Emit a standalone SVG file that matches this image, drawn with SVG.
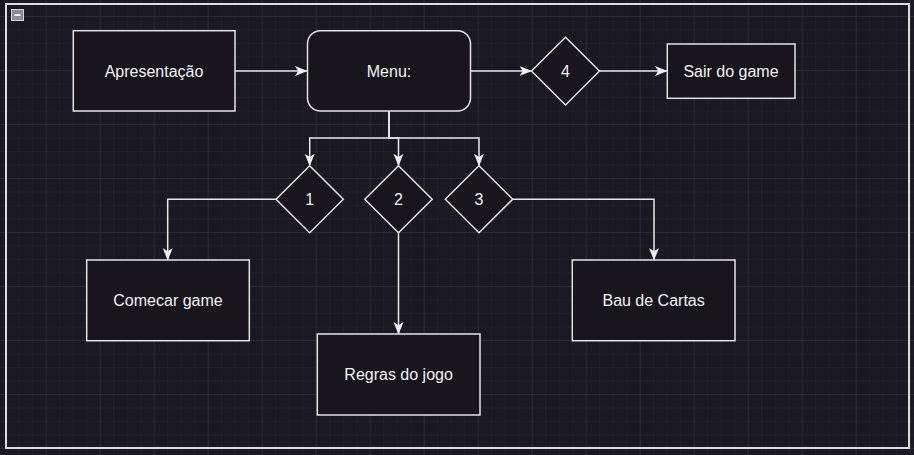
<svg xmlns="http://www.w3.org/2000/svg" width="914" height="455" viewBox="0 0 914 455">
  <style>
    .node { fill: #18151d; stroke: #e3e3e3; stroke-width: 1.5; }
    .label { fill: #f2f2f2; font-family: "Liberation Sans", Arial, sans-serif; font-size: 16px; text-anchor: middle; dominant-baseline: central; }
    .edge { fill: none; stroke: #e8e8e8; stroke-width: 1.5; }
    .arrow { marker-end: url(#arrowhead); }
  </style>
  <defs>
    <pattern id="minor" patternUnits="userSpaceOnUse" x="45.7" y="16" width="13.5" height="13.5">
      <path d="M0,0 V13.5 M0,0 H13.5" fill="none" stroke="#26242c" stroke-width="1"/>
    </pattern>
    <pattern id="major" patternUnits="userSpaceOnUse" x="45.7" y="16" width="54" height="54">
      <path d="M0,0 V54 M0,0 H54" fill="none" stroke="#34323b" stroke-width="1"/>
    </pattern>
    <marker id="arrowhead" markerUnits="userSpaceOnUse" markerWidth="14" markerHeight="12" refX="12" refY="5" orient="auto" viewBox="0 0 14 12">
      <path d="M0,0 L12.5,5 L0,10 L3.2,5 Z" fill="#f0f0f0"/>
    </marker>
  </defs>

  <rect x="0" y="0" width="914" height="455" fill="#1a1820"/>
  <rect x="0" y="0" width="914" height="455" fill="url(#minor)"/>
  <rect x="0" y="0" width="914" height="455" fill="url(#major)"/>

  <g id="frame">
    <rect x="6" y="4" width="903" height="444" fill="none" stroke="#dcdcdc" stroke-width="2"/>
    <rect x="11.5" y="9.5" width="12" height="11" fill="#8c8c96" stroke="#d4d4dc" stroke-width="1"/>
    <line x1="14.5" y1="15" x2="20.5" y2="15" stroke="#f4f4f4" stroke-width="2"/>
  </g>

  <g id="connectors">
    <path class="edge arrow" d="M235,71 H307"/>
    <path class="edge arrow" d="M470.7,71 H531.5"/>
    <path class="edge arrow" d="M599.5,71 H667"/>
    <path class="edge arrow" d="M389,111 V138 H309.7 V165.7"/>
    <path class="edge arrow" d="M389,111 V138 H398.5 V165.7"/>
    <path class="edge arrow" d="M389,111 V138 H479 V165.7"/>
    <path class="edge arrow" d="M276,199.2 H167.7 V260"/>
    <path class="edge arrow" d="M398.5,232.7 V334"/>
    <path class="edge arrow" d="M512.7,199.2 H654 V260"/>
  </g>

  <g id="apresentacao">
    <rect class="node" x="73.3" y="30.7" width="161.7" height="80.3"/>
    <text class="label" x="154" y="71">Apresentação</text>
  </g>
  <g id="menu">
    <rect class="node" x="307.5" y="30.7" width="163" height="80.3" rx="13" ry="13"/>
    <text class="label" x="389" y="71">Menu:</text>
  </g>
  <g id="opcao4">
    <polygon class="node" points="565.5,37.3 599.5,71 565.5,105 531.5,71"/>
    <text class="label" x="565.5" y="71">4</text>
  </g>
  <g id="sair">
    <rect class="node" x="667.3" y="44" width="127.7" height="54.3"/>
    <text class="label" x="731" y="71">Sair do game</text>
  </g>
  <g id="opcao1">
    <polygon class="node" points="309.7,165.7 343.3,199.2 309.7,232.7 276,199.2"/>
    <text class="label" x="309.7" y="199.2">1</text>
  </g>
  <g id="opcao2">
    <polygon class="node" points="398.5,165.7 432.2,199.2 398.5,232.7 364.8,199.2"/>
    <text class="label" x="398.5" y="199.2">2</text>
  </g>
  <g id="opcao3">
    <polygon class="node" points="479,165.7 512.7,199.2 479,232.7 445.3,199.2"/>
    <text class="label" x="479" y="199.2">3</text>
  </g>
  <g id="comecar">
    <rect class="node" x="86.7" y="260" width="162.6" height="80.7"/>
    <text class="label" x="168" y="300.3">Comecar game</text>
  </g>
  <g id="regras">
    <rect class="node" x="317.3" y="334" width="162.7" height="81"/>
    <text class="label" x="398.6" y="374.5">Regras do jogo</text>
  </g>
  <g id="bau">
    <rect class="node" x="572.3" y="260" width="162.7" height="80.7"/>
    <text class="label" x="653.6" y="300.3">Bau de Cartas</text>
  </g>
</svg>
